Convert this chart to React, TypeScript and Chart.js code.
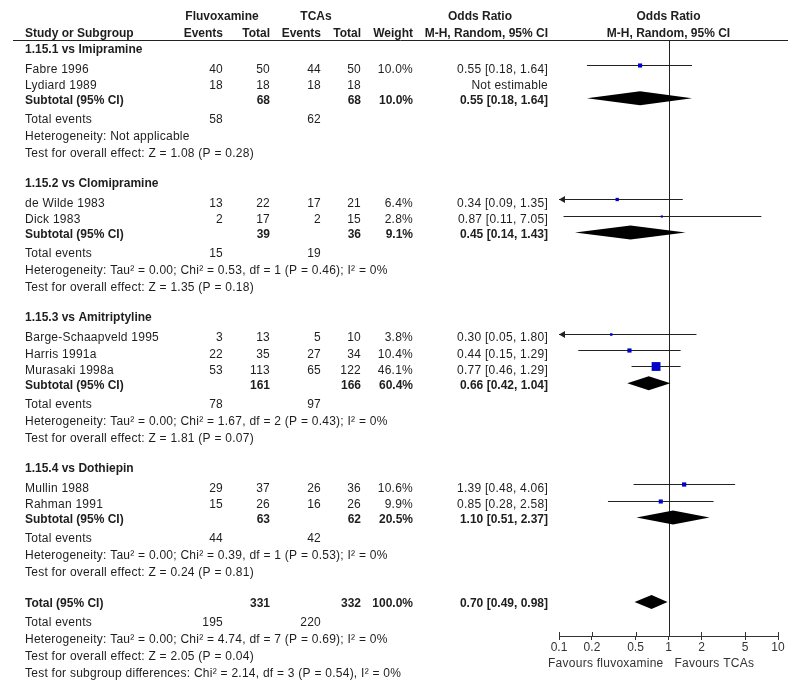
import React, { useEffect, useRef } from "react";
import { Chart, registerables } from "chart.js";

Chart.register(...registerables);

// ---------------- data ----------------
const groupTitles = [
  "1.15.1 vs Imipramine",
  "1.15.2 vs Clomipramine",
  "1.15.3 vs Amitriptyline",
  "1.15.4 vs Dothiepin",
];

const studyNames = [
  "Fabre 1996",
  "Lydiard 1989",
  "de Wilde 1983",
  "Dick 1983",
  "Barge-Schaapveld 1995",
  "Harris 1991a",
  "Murasaki 1998a",
  "Mullin 1988",
  "Rahman 1991",
];
const studyGroup = [0, 0, 1, 1, 2, 2, 2, 3, 3];
const fluvEvents = [40, 18, 13, 2, 3, 22, 53, 29, 15];
const fluvTotal = [50, 18, 22, 17, 13, 35, 113, 37, 26];
const tcaEvents = [44, 18, 17, 2, 5, 27, 65, 26, 16];
const tcaTotal = [50, 18, 21, 15, 10, 34, 122, 36, 26];
const studyWeight: (number | null)[] = [10.0, null, 6.4, 2.8, 3.8, 10.4, 46.1, 10.6, 9.9];
const studyOR: (number | null)[] = [0.55, null, 0.34, 0.87, 0.3, 0.44, 0.77, 1.39, 0.85];
const studyLow: (number | null)[] = [0.18, null, 0.09, 0.11, 0.05, 0.15, 0.46, 0.48, 0.28];
const studyHigh: (number | null)[] = [1.64, null, 1.35, 7.05, 1.8, 1.29, 1.29, 4.06, 2.58];

const subFluvTotal = [68, 39, 161, 63];
const subTcaTotal = [68, 36, 166, 62];
const subWeight = [10.0, 9.1, 60.4, 20.5];
const subOR = [0.55, 0.45, 0.66, 1.1];
const subLow = [0.18, 0.14, 0.42, 0.51];
const subHigh = [1.64, 1.43, 1.04, 2.37];
const subFluvEvents = [58, 15, 78, 44];
const subTcaEvents = [62, 19, 97, 42];
const subHeterogeneity = [
  "Heterogeneity: Not applicable",
  "Heterogeneity: Tau² = 0.00; Chi² = 0.53, df = 1 (P = 0.46); I² = 0%",
  "Heterogeneity: Tau² = 0.00; Chi² = 1.67, df = 2 (P = 0.43); I² = 0%",
  "Heterogeneity: Tau² = 0.00; Chi² = 0.39, df = 1 (P = 0.53); I² = 0%",
];
const subOverall = [
  "Test for overall effect: Z = 1.08 (P = 0.28)",
  "Test for overall effect: Z = 1.35 (P = 0.18)",
  "Test for overall effect: Z = 1.81 (P = 0.07)",
  "Test for overall effect: Z = 0.24 (P = 0.81)",
];

const totalFluv = 331;
const totalTca = 332;
const totalWeight = 100.0;
const totalOR = [0.7, 0.49, 0.98];
const totalEvents = [195, 220];
const totalHeterogeneity = "Heterogeneity: Tau² = 0.00; Chi² = 4.74, df = 7 (P = 0.69); I² = 0%";
const totalOverall = "Test for overall effect: Z = 2.05 (P = 0.04)";
const subgroupDiff = "Test for subgroup differences: Chi² = 2.14, df = 3 (P = 0.54), I² = 0%";

const axisTicks = [0.1, 0.2, 0.5, 1, 2, 5, 10];
const favoursLeft = "Favours fluvoxamine";
const favoursRight = "Favours TCAs";

// ---------------- layout / style ----------------
const FONT = "'Liberation Sans', Arial, sans-serif";
const TEXT = "#1e1e1e";
const LINE = "#222";
const SQUARE = "#0000c8";
const COL = { name: 25, fEv: 223, fTot: 270, tEv: 321, tTot: 361, wt: 413, or: 548 };
const TEXT_DY = 1.5;

type Row = { kind: string; y: number; i: number };

function buildRows(): Row[] {
  const rows: Row[] = [];
  let y = 48;
  groupTitles.forEach((_, g) => {
    rows.push({ kind: "group", y, i: g });
    y += 20;
    const idx = studyNames.map((_, i) => i).filter((i) => studyGroup[i] === g);
    idx.forEach((i, k) => {
      rows.push({ kind: "study", y, i });
      y += k < idx.length - 1 ? 16.3 : 14.5;
    });
    rows.push({ kind: "subtotal", y, i: g });
    y += 19;
    rows.push({ kind: "subEvents", y, i: g });
    y += 17.5;
    rows.push({ kind: "subHet", y, i: g });
    y += 17;
    rows.push({ kind: "subTest", y, i: g });
    y += g < groupTitles.length - 1 ? 30 : 31;
  });
  rows.push({ kind: "total", y, i: 0 });
  y += 19;
  rows.push({ kind: "totEvents", y, i: 0 });
  y += 17;
  rows.push({ kind: "totHet", y, i: 0 });
  y += 17;
  rows.push({ kind: "totTest", y, i: 0 });
  y += 17;
  rows.push({ kind: "subDiff", y, i: 0 });
  return rows;
}

const fmtOR = (a: number, b: number, c: number) => `${a.toFixed(2)} [${b.toFixed(2)}, ${c.toFixed(2)}]`;

export default function App() {
  const ref = useRef<HTMLCanvasElement>(null);

  useEffect(() => {
    document.body.style.margin = "0";
    const canvas = ref.current!;
    const rows = buildRows();
    const studyRows = rows.filter((r) => r.kind === "study");
    const markY = (y: number) => Math.round(y - 3) + 0.5;

    const squareData: any[] = [];
    const squareRadius: number[] = [];
    const ciSets: any[] = [];
    studyRows.forEach((r) => {
      const i = r.i;
      if (studyOR[i] == null) return;
      const y = markY(r.y);
      squareData.push({ x: studyOR[i], y });
      squareRadius.push((1.3 * Math.sqrt(studyWeight[i] as number)) / (2 * Math.SQRT1_2));
      ciSets.push({
        type: "line",
        data: [
          { x: studyLow[i], y },
          { x: studyHigh[i], y },
        ],
        borderColor: LINE,
        borderWidth: 1,
        pointRadius: 0,
        showLine: true,
        order: 2,
      });
    });

    const diamonds: { y: number; v: number[] }[] = [];
    rows.forEach((r) => {
      if (r.kind === "subtotal") diamonds.push({ y: r.y - 0.5, v: [subOR[r.i], subLow[r.i], subHigh[r.i]] });
      if (r.kind === "total") diamonds.push({ y: r.y - 0.5, v: totalOR });
    });

    const forestPlugin = {
      id: "forest",
      beforeDatasetsDraw(chart: any) {
        const { ctx, chartArea, scales } = chart;
        const xs = scales.x;
        ctx.save();
        ctx.strokeStyle = LINE;
        ctx.lineWidth = 1;
        // header rule
        ctx.beginPath();
        ctx.moveTo(13, Math.round(chartArea.top) + 0.5);
        ctx.lineTo(788, Math.round(chartArea.top) + 0.5);
        ctx.stroke();
        // line of no effect
        const x1 = Math.round(xs.getPixelForValue(1)) + 0.5;
        ctx.beginPath();
        ctx.moveTo(x1, chartArea.top);
        ctx.lineTo(x1, chartArea.bottom);
        ctx.stroke();
        ctx.restore();
      },
      afterDatasetsDraw(chart: any) {
        const { ctx, chartArea, scales } = chart;
        const xs = scales.x;
        const ys = scales.y;
        ctx.save();
        // diamonds
        ctx.fillStyle = "#000";
        diamonds.forEach((d) => {
          const yc = ys.getPixelForValue(d.y);
          const [e, lo, hi] = d.v;
          ctx.beginPath();
          ctx.moveTo(xs.getPixelForValue(lo), yc);
          ctx.lineTo(xs.getPixelForValue(e), yc - 7);
          ctx.lineTo(xs.getPixelForValue(hi), yc);
          ctx.lineTo(xs.getPixelForValue(e), yc + 7);
          ctx.closePath();
          ctx.fill();
        });
        // arrows for CIs beyond the axis
        ctx.fillStyle = LINE;
        studyRows.forEach((r) => {
          const i = r.i;
          if (studyOR[i] == null) return;
          const y = ys.getPixelForValue(markY(r.y));
          if ((studyLow[i] as number) < xs.min) {
            const tip = chartArea.left;
            ctx.beginPath();
            ctx.moveTo(tip, y);
            ctx.lineTo(tip + 6, y - 3.5);
            ctx.lineTo(tip + 6, y + 3.5);
            ctx.closePath();
            ctx.fill();
          }
          if ((studyHigh[i] as number) > xs.max) {
            const tip = chartArea.right;
            ctx.beginPath();
            ctx.moveTo(tip, y);
            ctx.lineTo(tip - 6, y - 3.5);
            ctx.lineTo(tip - 6, y + 3.5);
            ctx.closePath();
            ctx.fill();
          }
        });
        // upward halves of axis ticks
        ctx.strokeStyle = "#333";
        ctx.lineWidth = 1;
        axisTicks.forEach((t) => {
          const px = Math.round(xs.getPixelForValue(t)) + 0.5;
          ctx.beginPath();
          ctx.moveTo(px, chartArea.bottom - 4);
          ctx.lineTo(px, chartArea.bottom);
          ctx.stroke();
        });
        ctx.restore();
      },
      afterDraw(chart: any) {
        const { ctx, chartArea, scales } = chart;
        const xs = scales.x;
        const ys = scales.y;
        ctx.save();
        ctx.fillStyle = TEXT;
        ctx.textBaseline = "middle";
        const txt = (s: string, x: number, y: number, align: CanvasTextAlign, bold = false) => {
          ctx.font = `${bold ? "bold " : ""}12px ${FONT}`;
          (ctx as any).letterSpacing = bold ? "0px" : "0.25px";
          ctx.textAlign = align;
          ctx.fillText(s, x, ys.getPixelForValue(y) + TEXT_DY);
        };
        const plotCenter = (chartArea.left + chartArea.right) / 2;
        // headers
        txt("Fluvoxamine", 222, 15, "center", true);
        txt("TCAs", 316, 15, "center", true);
        txt("Odds Ratio", 480, 15, "center", true);
        txt("Odds Ratio", plotCenter, 15, "center", true);
        txt("Study or Subgroup", COL.name, 32, "left", true);
        txt("Events", COL.fEv, 32, "right", true);
        txt("Total", COL.fTot, 32, "right", true);
        txt("Events", COL.tEv, 32, "right", true);
        txt("Total", COL.tTot, 32, "right", true);
        txt("Weight", COL.wt, 32, "right", true);
        txt("M-H, Random, 95% CI", COL.or, 32, "right", true);
        txt("M-H, Random, 95% CI", plotCenter, 32, "center", true);

        rows.forEach((r) => {
          const i = r.i;
          const y = r.y;
          switch (r.kind) {
            case "group":
              txt(groupTitles[i], COL.name, y, "left", true);
              break;
            case "study":
              txt(studyNames[i], COL.name, y, "left");
              txt(String(fluvEvents[i]), COL.fEv, y, "right");
              txt(String(fluvTotal[i]), COL.fTot, y, "right");
              txt(String(tcaEvents[i]), COL.tEv, y, "right");
              txt(String(tcaTotal[i]), COL.tTot, y, "right");
              if (studyWeight[i] != null) txt(`${(studyWeight[i] as number).toFixed(1)}%`, COL.wt, y, "right");
              if (studyOR[i] != null)
                txt(fmtOR(studyOR[i] as number, studyLow[i] as number, studyHigh[i] as number), COL.or, y, "right");
              else txt("Not estimable", COL.or, y, "right");
              break;
            case "subtotal":
              txt("Subtotal (95% CI)", COL.name, y, "left", true);
              txt(String(subFluvTotal[i]), COL.fTot, y, "right", true);
              txt(String(subTcaTotal[i]), COL.tTot, y, "right", true);
              txt(`${subWeight[i].toFixed(1)}%`, COL.wt, y, "right", true);
              txt(fmtOR(subOR[i], subLow[i], subHigh[i]), COL.or, y, "right", true);
              break;
            case "subEvents":
              txt("Total events", COL.name, y, "left");
              txt(String(subFluvEvents[i]), COL.fEv, y, "right");
              txt(String(subTcaEvents[i]), COL.tEv, y, "right");
              break;
            case "subHet":
              txt(subHeterogeneity[i], COL.name, y, "left");
              break;
            case "subTest":
              txt(subOverall[i], COL.name, y, "left");
              break;
            case "total":
              txt("Total (95% CI)", COL.name, y, "left", true);
              txt(String(totalFluv), COL.fTot, y, "right", true);
              txt(String(totalTca), COL.tTot, y, "right", true);
              txt(`${totalWeight.toFixed(1)}%`, COL.wt, y, "right", true);
              txt(fmtOR(totalOR[0], totalOR[1], totalOR[2]), COL.or, y, "right", true);
              break;
            case "totEvents":
              txt("Total events", COL.name, y, "left");
              txt(String(totalEvents[0]), COL.fEv, y, "right");
              txt(String(totalEvents[1]), COL.tEv, y, "right");
              break;
            case "totHet":
              txt(totalHeterogeneity, COL.name, y, "left");
              break;
            case "totTest":
              txt(totalOverall, COL.name, y, "left");
              break;
            case "subDiff":
              txt(subgroupDiff, COL.name, y, "left");
              break;
          }
        });

        // favours labels
        const x1 = xs.getPixelForValue(1);
        ctx.fillStyle = "#333";
        txt(favoursLeft, x1 - 5, 662, "right");
        txt(favoursRight, x1 + 6, 662, "left");
        ctx.restore();
      },
    };

    const chart = new Chart(canvas, {
      type: "scatter",
      data: {
        datasets: [
          {
            data: squareData,
            pointStyle: "rect",
            pointRadius: squareRadius,
            backgroundColor: SQUARE,
            borderWidth: 0,
            order: 0,
          } as any,
          ...ciSets,
        ],
      },
      options: {
        animation: false,
        responsive: false,
        events: [],
        layout: { padding: { left: 559, right: 22, top: 40, bottom: 42 } },
        plugins: { legend: { display: false }, tooltip: { enabled: false } },
        scales: {
          x: {
            type: "logarithmic",
            min: 0.1,
            max: 10,
            afterBuildTicks: (scale: any) => {
              scale.ticks = axisTicks.map((v) => ({ value: v }));
            },
            afterFit: (scale: any) => {
              scale.height = 20;
            },
            ticks: {
              autoSkip: false,
              maxRotation: 0,
              minRotation: 0,
              padding: 2,
              color: "#333",
              font: { family: FONT, size: 12, lineHeight: 1 },
              callback: (v: any) => String(v),
            },
            grid: {
              display: true,
              drawOnChartArea: false,
              drawTicks: true,
              tickLength: 4,
              color: "#333",
              lineWidth: 1,
            },
            border: { display: true, color: "#333", width: 1 },
          },
          y: {
            type: "linear",
            display: false,
            min: 40,
            max: 636,
            reverse: true,
          },
        },
      } as any,
      plugins: [forestPlugin],
    });

    return () => chart.destroy();
  }, []);

  return (
    <canvas
      ref={ref}
      width={800}
      height={698}
      style={{ display: "block", width: 800, height: 698 }}
    />
  );
}
